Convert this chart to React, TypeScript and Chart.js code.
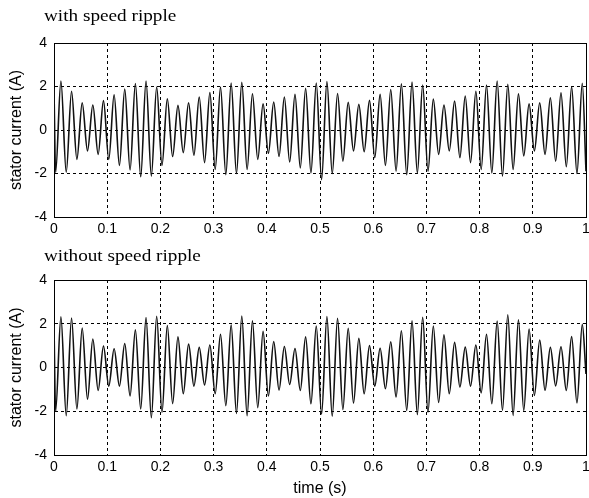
import React, { useEffect, useRef } from 'react';
import { Chart, registerables } from 'chart.js';

Chart.register(...registerables);

// Time stamps (s) of the start, each successive trough/crest and the end of the trace
const timeS = [
  0, 0.003, 0.013, 0.023, 0.033, 0.043, 0.053, 0.063, 0.073, 0.083, 0.093,
  0.103, 0.113, 0.123, 0.133, 0.143, 0.153, 0.163, 0.173, 0.183, 0.193,
  0.203, 0.213, 0.223, 0.233, 0.243, 0.253, 0.263, 0.273, 0.283, 0.293,
  0.303, 0.313, 0.323, 0.333, 0.343, 0.353, 0.363, 0.373, 0.383, 0.393,
  0.403, 0.413, 0.423, 0.433, 0.443, 0.453, 0.463, 0.473, 0.483, 0.493,
  0.503, 0.513, 0.523, 0.533, 0.543, 0.553, 0.563, 0.573, 0.583, 0.593,
  0.603, 0.613, 0.623, 0.633, 0.643, 0.653, 0.663, 0.673, 0.683, 0.693,
  0.703, 0.713, 0.723, 0.733, 0.743, 0.753, 0.763, 0.773, 0.783, 0.793,
  0.803, 0.813, 0.823, 0.833, 0.843, 0.853, 0.863, 0.873, 0.883, 0.893,
  0.903, 0.913, 0.923, 0.933, 0.943, 0.953, 0.963, 0.973, 0.983, 0.993,
  1,
];

// Stator current (A), with speed ripple
const currentWithRipple = [
  1.9,
  -1.95, 2.25, -1.94, 1.78, -1.35, 1.25, -0.96, 1.15, -1.12, 1.35,
  -1.35, 1.62, -1.63, 1.88, -1.84, 2.14, -2.15, 2.25, -2.12, 1.98,
  -1.63, 1.44, -1.22, 1.13, -1.04, 1.25, -1.16, 1.52, -1.5, 1.72,
  -1.81, 1.98, -2.05, 2.16, -2.0, 2.19, -1.81, 1.67, -1.35, 1.21,
  -1.07, 1.29, -1.22, 1.52, -1.47, 1.64, -1.74, 1.92, -1.97, 2.16,
  -2.28, 2.23, -2.0, 1.68, -1.43, 1.27, -0.96, 1.18, -1.0, 1.36,
  -1.27, 1.64, -1.63, 1.86, -1.89, 2.12, -2.05, 2.2, -1.97, 2.07,
  -1.89, 1.42, -1.12, 1.15, -0.96, 1.33, -1.27, 1.56, -1.5, 1.78,
  -1.81, 2.07, -1.97, 2.25, -2.12, 2.1, -1.81, 1.66, -1.19, 1.2,
  -0.96, 1.25, -1.12, 1.48, -1.43, 1.71, -1.69, 1.99, -2.0, 2.15,
  -1.9,
];

// Stator current (A), without speed ripple
const currentWithoutRipple = [
  1.9,
  -2.0, 2.32, -2.2, 2.26, -1.9, 1.8, -1.45, 1.3, -1.05, 0.98,
  -0.85, 0.86, -0.85, 1.1, -1.3, 1.72, -1.9, 2.28, -2.3, 2.34,
  -2.05, 1.92, -1.65, 1.4, -1.2, 1.07, -0.85, 0.92, -0.8, 1.03,
  -1.2, 1.52, -1.75, 1.95, -2.1, 2.35, -2.2, 2.13, -1.84, 1.65,
  -1.3, 1.19, -1.03, 0.96, -0.78, 0.87, -1.05, 1.4, -1.66, 1.9,
  -2.13, 2.33, -2.23, 2.25, -1.92, 1.79, -1.63, 1.33, -1.2, 1.0,
  -0.85, 0.88, -0.97, 1.18, -1.35, 1.68, -1.96, 2.13, -2.15, 2.3,
  -2.04, 1.9, -1.6, 1.49, -1.2, 1.15, -0.89, 0.93, -0.85, 1.03,
  -1.16, 1.52, -1.66, 2.12, -1.96, 2.41, -2.19, 2.18, -1.96, 1.76,
  -1.28, 1.26, -1.04, 0.92, -0.84, 0.95, -1.05, 1.41, -1.62, 1.97,
  -0.3,
];

const xTickValues = [0, 0.1, 0.2, 0.3, 0.4, 0.5, 0.6, 0.7, 0.8, 0.9, 1];
const xTickLabels = ['0', '0.1', '0.2', '0.3', '0.4', '0.5', '0.6', '0.7', '0.8', '0.9', '1'];
const yTickValues = [-4, -2, 0, 2, 4];
const yTickLabels = ['-4', '-2', '0', '2', '4'];

const panelTitles = ['with speed ripple', 'without speed ripple'];
const xAxisTitle = 'time (s)';
const yAxisTitle = 'stator current (A)';

const SANS = '"Liberation Sans", Arial, Helvetica, sans-serif';
const SERIF = '"Liberation Serif", "Times New Roman", serif';

type PanelProps = {
  title: string;
  values: number[];
  height: number;
  padTop: number;
  xAxisHeight: number;
  showXTitle: boolean;
  titleBaseline: number;
};

function Panel({ title, values, height, padTop, xAxisHeight, showXTitle, titleBaseline }: PanelProps) {
  const ref = useRef<HTMLCanvasElement | null>(null);

  useEffect(() => {
    const canvas = ref.current;
    if (!canvas) return;

    const subtitlePlugin = {
      id: 'panelSubtitle',
      afterDraw(chart: any) {
        const ctx = chart.ctx;
        ctx.save();
        ctx.font = `17px ${SERIF}`;
        ctx.fillStyle = '#000';
        ctx.textAlign = 'left';
        ctx.textBaseline = 'alphabetic';
        ctx.translate(44, titleBaseline);
        ctx.scale(1.13, 1);
        ctx.fillText(title, 0, 0);
        ctx.restore();
      },
    };

    const edgeSolid = (edge: number) => (c: any) =>
      c && c.tick && Math.abs(c.tick.value - edge) < 1e-9 ? [] : [3, 3];

    const chart = new Chart(canvas, {
      type: 'line',
      data: {
        datasets: [
          {
            data: timeS.map((t, i) => ({ x: t, y: values[i] })),
            borderColor: '#111',
            borderWidth: 1.6,
            pointRadius: 0,
            fill: false,
            cubicInterpolationMode: 'monotone',
          },
        ],
      },
      options: {
        animation: false,
        responsive: false,
        events: [],
        layout: { padding: { top: padTop, right: 3, left: 0, bottom: 0 } },
        plugins: {
          legend: { display: false },
          tooltip: { enabled: false },
          title: { display: false },
        },
        scales: {
          x: {
            type: 'linear',
            min: 0,
            max: 1,
            afterBuildTicks: (s: any) => {
              s.ticks = xTickValues.map((v) => ({ value: v }));
            },
            afterFit: (s: any) => {
              s.height = xAxisHeight;
              s.paddingLeft = 0;
              s.paddingRight = 0;
            },
            ticks: {
              callback: (_v: any, i: number) => xTickLabels[i],
              color: '#000',
              font: { family: SANS, size: 14 },
              padding: 4,
              maxRotation: 0,
              autoSkip: false,
            },
            grid: { color: '#000', lineWidth: 1, drawTicks: false },
            border: { display: true, color: '#000', width: 1, dash: edgeSolid(1) },
            title: {
              display: showXTitle,
              text: xAxisTitle,
              color: '#000',
              font: { family: SANS, size: 16 },
              padding: { top: 0, bottom: 0 },
            },
          },
          y: {
            type: 'linear',
            min: -4,
            max: 4,
            afterBuildTicks: (s: any) => {
              s.ticks = yTickValues.map((v) => ({ value: v }));
            },
            afterFit: (s: any) => {
              s.width = 54;
              s.paddingTop = 0;
              s.paddingBottom = 0;
            },
            ticks: {
              callback: (_v: any, i: number) => yTickLabels[i],
              color: '#000',
              font: { family: SANS, size: 14 },
              padding: 7,
              autoSkip: false,
            },
            grid: { color: '#000', lineWidth: 1, drawTicks: false },
            border: { display: true, color: '#000', width: 1, dash: edgeSolid(4) },
            title: {
              display: true,
              text: yAxisTitle,
              color: '#000',
              font: { family: SANS, size: 16 },
              padding: { top: 7, bottom: 0 },
            },
          },
        },
      } as any,
      plugins: [subtitlePlugin],
    });

    return () => chart.destroy();
  }, [title, values, height, padTop, xAxisHeight, showXTitle, titleBaseline]);

  return <canvas ref={ref} width={589} height={height} style={{ display: 'block' }} />;
}

export default function App() {
  return (
    <div
      style={{
        position: 'absolute',
        left: 0,
        top: 0,
        width: 589,
        height: 498,
        background: '#fff',
      }}
    >
      <Panel
        title={panelTitles[0]}
        values={currentWithRipple}
        height={245}
        padTop={43}
        xAxisHeight={28}
        showXTitle={false}
        titleBaseline={21}
      />
      <Panel
        title={panelTitles[1]}
        values={currentWithoutRipple}
        height={253}
        padTop={35}
        xAxisHeight={43}
        showXTitle={true}
        titleBaseline={16}
      />
    </div>
  );
}
